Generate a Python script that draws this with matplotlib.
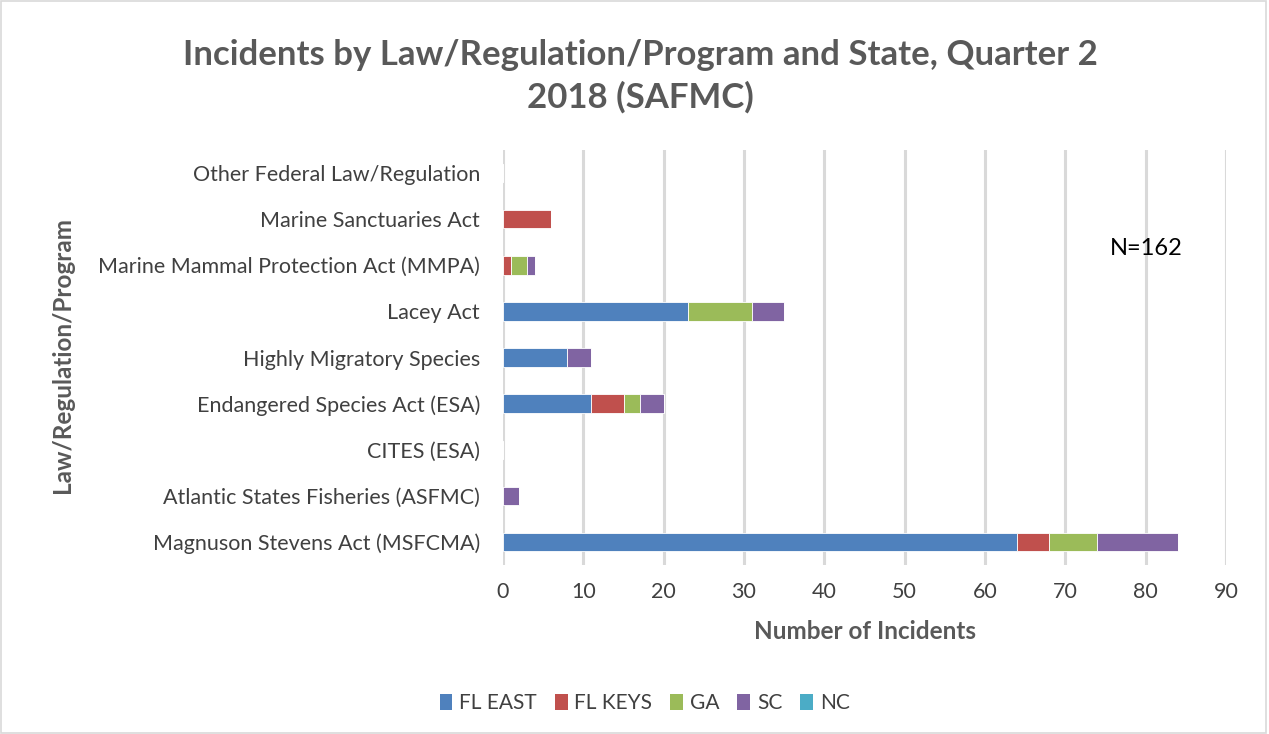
import matplotlib
matplotlib.use("Agg")
import matplotlib.pyplot as plt
import numpy as np
from matplotlib.patches import Rectangle, Patch

categories = [
    "Magnuson Stevens Act (MSFCMA)",
    "Atlantic States Fisheries (ASFMC)",
    "CITES (ESA)",
    "Endangered Species Act (ESA)",
    "Highly Migratory Species",
    "Lacey Act",
    "Marine Mammal Protection Act (MMPA)",
    "Marine Sanctuaries Act",
    "Other Federal Law/Regulation",
]
fl_east = [64, 0, 0, 11, 8, 23, 0, 0, 0]
fl_keys = [4, 0, 0, 4, 0, 0, 1, 6, 0]
ga = [6, 0, 0, 2, 0, 8, 2, 0, 0]
sc = [10, 2, 0, 3, 3, 4, 1, 0, 0]
nc = [0, 0, 0, 0, 0, 0, 0, 0, 0]
series_names = ["FL EAST", "FL KEYS", "GA", "SC", "NC"]
colors = ["#4F81BD", "#C0504D", "#9BBB59", "#8064A2", "#4BACC6"]
x_ticks = [0, 10, 20, 30, 40, 50, 60, 70, 80, 90]

plt.rcParams['font.family'] = ['Lato', 'DejaVu Sans']

fig = plt.figure(figsize=(12.69, 7.34), dpi=100)
ax = fig.add_axes([0.3964, 0.2302, 0.5697, 0.5654])

y = np.arange(len(categories))
left = np.zeros(len(categories))
for vals, name, col in zip([fl_east, fl_keys, ga, sc, nc], series_names, colors):
    ax.barh(y, vals, left=left, height=0.4, color=col, label=name,
            edgecolor="white", linewidth=0.6, zorder=3)
    left += np.array(vals)

ax.set_xlim(0, 90)
ax.set_ylim(-0.5, len(categories) - 0.5)
ax.set_xticks(x_ticks)
ax.set_yticks(y)
ax.set_yticklabels(categories)
ax.tick_params(axis='both', length=0, labelsize=15.5, colors="#404040")
ax.tick_params(axis='x', pad=12)
ax.tick_params(axis='y', pad=16.5)
ax.grid(axis='x', color="#D9D9D9", linewidth=2.2, zorder=0)
for s in ax.spines.values():
    s.set_visible(False)

fig.text(0.682, 0.139, "Number of Incidents", fontsize=17.5, fontweight='bold',
         color="#595959", ha='center', va='center')
fig.text(0.049, 0.516, "Law/Regulation/Program", rotation=90, fontsize=17.5,
         fontweight='bold', color="#595959", ha='center', va='center')

fig.text(0.505, 0.896, "Incidents by Law/Regulation/Program and State, Quarter 2\n2018 (SAFMC)",
         ha='center', va='center', fontsize=25, fontweight='bold', color="#595959",
         linespacing=1.35)

fig.text(0.903, 0.662, "N=162", fontsize=17, color="#000000", ha='center', va='center')

handles = [Patch(facecolor=c, label=n) for n, c in zip(series_names, colors)]
fig.legend(handles=handles, loc='center', bbox_to_anchor=(0.508, 0.042), ncol=5,
           frameon=False, fontsize=15, handlelength=0.62, handleheight=0.8,
           columnspacing=0.85, handletextpad=0.33, labelcolor="#404040")

fig.add_artist(Rectangle((0.001, 0.001), 0.997, 0.997, transform=fig.transFigure,
                         fill=False, edgecolor="#D9D9D9", linewidth=1.2))

fig.savefig("out.png", dpi=100, facecolor="white")
